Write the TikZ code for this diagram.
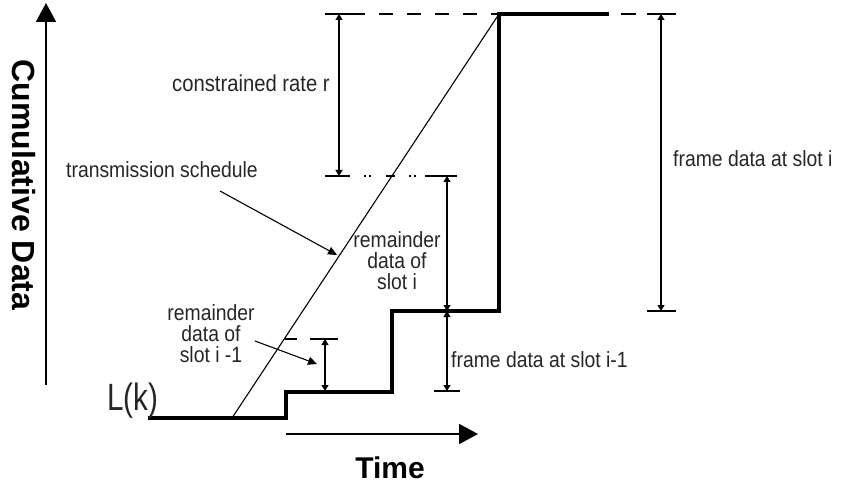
\documentclass[tikz,border=0pt]{standalone}
\usepackage{fontspec}
\setmainfont{Liberation Sans}
\newfontfamily\labfont[FakeStretch=0.88]{Liberation Sans}
\newfontfamily\lkfont[FakeStretch=0.78]{Liberation Sans}
\usetikzlibrary{arrows.meta}
\begin{document}
\begin{tikzpicture}[x=1pt,y=-1pt,
  stepline/.style={line width=3.8pt, line join=miter, line cap=butt},
  sched/.style={line width=1.1pt},
  dimline/.style={line width=1.2pt, {Triangle[length=6pt,width=7pt]}-{Triangle[length=6pt,width=7pt]}},
  tickline/.style={line width=1.2pt},
  dashline/.style={line width=1.2pt, dash pattern=on 14pt off 14pt, dash phase=14pt},
  pointer/.style={line width=1.1pt, -{Triangle[length=9pt,width=8pt]}},
  axis/.style={line width=1.8pt, -{Triangle[length=19pt,width=20pt]}},
  lbl/.style={font=\labfont\fontsize{22}{21}\selectfont, inner sep=0pt, text=black!85},
  bigl/.style={font=\bfseries\fontsize{30}{32}\selectfont, inner sep=0pt}]
\useasboundingbox (0,0) rectangle (845,486);

% axes
\coordinate (ya0) at (46,385); \coordinate (ya1) at (46,3);
\coordinate (xa0) at (286,434); \coordinate (xa1) at (478,434);
\draw[axis] (ya0) -- (ya1);
\draw[axis] (xa0) -- (xa1);
\node[bigl, font=\bfseries\fontsize{32}{34}\selectfont, rotate=-90] (ylab) at (24,185) {Cumulative Data};
\node[bigl, anchor=base] (xlab) at (390,478) {Time};

% step function L(k)
\coordinate (s0) at (148,418); \coordinate (s1) at (286,418);
\coordinate (s2) at (286,392); \coordinate (s3) at (392,392);
\coordinate (s4) at (392,311); \coordinate (s5) at (499,311);
\coordinate (s6) at (499,14);  \coordinate (s7) at (609,14);
\draw[stepline] (s0) -- (s1) -- (s2) -- (s3) -- (s4) -- (s5) -- (s6) -- (s7);
\node[font=\lkfont\fontsize{38}{40}\selectfont, inner sep=0pt, text=black!85, anchor=base west] (lk) at (107,410) {L(k)};

% transmission schedule
\coordinate (t0) at (232,418);
\draw[sched] (t0) -- (s6);

% top dashed level
\coordinate (d0) at (325,14); \coordinate (d1) at (365,14);
\draw[tickline] (d0) -- (d1);
\draw[dashline] (d1) -- (s6);
\coordinate (d2) at (647,14); \coordinate (d3) at (676,14);
\draw[line width=1.2pt, dash pattern=on 15pt off 12pt, dash phase=15pt] (s7) -- (d2);
\draw[tickline] (d2) -- (d3);

% level at y=176
\coordinate (m0) at (325,176); \coordinate (m1) at (350,176);
\coordinate (m2) at (425,176); \coordinate (m3) at (457,176);
\draw[tickline] (m0) -- (m1);
\draw[tickline] (m2) -- (m3);
\foreach \xx in {364,369,409,414} \draw[line width=1.1pt] (\xx,176) -- ++(2,0);
\draw[line width=1.1pt] (386,176) -- (395,176);

% level at y=339
\coordinate (n0) at (285,339); \coordinate (n1) at (297,339);
\coordinate (n2) at (310,339); \coordinate (n3) at (338,339);
\draw[tickline] (n0) -- (n1);
\draw[tickline] (n2) -- (n3);

% bottom ticks
\coordinate (b0) at (434,391); \coordinate (b1) at (460,391);
\draw[tickline] (b0) -- (b1);
\coordinate (c0) at (647,311); \coordinate (c1) at (676,311);
\draw[tickline] (c0) -- (c1);

% dimension arrows
\coordinate (r0) at (339,14);  \coordinate (r1) at (339,176);
\draw[dimline] (r0) -- (r1);
\coordinate (q0) at (447,176); \coordinate (q1) at (447,311);
\draw[dimline] (q0) -- (q1);
\coordinate (p1) at (447,391);
\draw[dimline] (q1) -- (p1);
\coordinate (f0) at (661,14);  \coordinate (f1) at (661,311);
\draw[dimline] (f0) -- (f1);
\coordinate (g0) at (325,339); \coordinate (g1) at (325,391);
\draw[dimline] (g0) -- (g1);

% labels
\node[lbl, font=\labfont\fontsize{23}{21}\selectfont, anchor=base west] (rate) at (172,92) {constrained rate r};
\node[lbl, anchor=base west] (ts) at (66,178) {transmission schedule};
\node[lbl, align=center] (remi) at (397,261) {remainder\\data of\\slot i};
\node[lbl, align=center] (remi1) at (211,334) {remainder\\data of\\slot i -1};
\node[lbl, anchor=base west] (fi1) at (451,367) {frame data at slot i-1};
\node[lbl, anchor=base west] (fi) at (673,167) {frame data at slot i};

% pointers
\coordinate (pt0) at (220,191); \coordinate (pt1) at (337,255);
\draw[pointer] (pt0) -- (pt1);
\coordinate (pr0) at (255,341); \coordinate (pr1) at (317,364);
\draw[pointer] (pr0) -- (pr1);
\end{tikzpicture}
\end{document}
